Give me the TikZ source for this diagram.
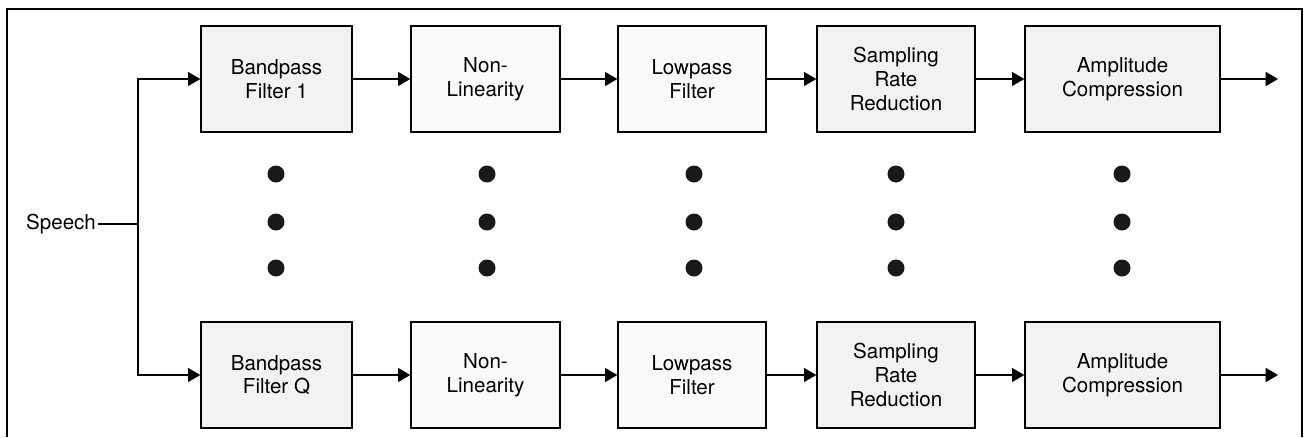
\documentclass[tikz,border=0pt]{standalone}
\usepackage{fontspec}
\setmainfont{TeX Gyre Heros}
\usetikzlibrary{arrows.meta}

\begin{document}
\begin{tikzpicture}[x=0.02cm,y=-0.02cm,>={Triangle[length=7pt,width=8pt]},
  blk/.style={draw,line width=0.8pt,fill=black!5,minimum height=2.12cm,
    align=center,font=\fontsize{11.7}{13.6}\selectfont},
  lite/.style={fill=black!2},
  dot/.style={circle,fill=black!90,inner sep=0pt,minimum size=0.34cm}]
  \useasboundingbox (0,0) rectangle (1305,437);
  % frame, open at the bottom
  \draw[line width=0.8pt] (7,437) -- (7,9) -- (1302,9) -- (1302,437);
  % input and the split to the filter bank
  \node[font=\fontsize{11.7}{13.6}\selectfont,anchor=east,inner sep=1pt] (speech) at (98,224) {Speech};
  \coordinate (bus) at (138,224);
  % one channel per row: top is channel 1, bottom is channel Q
  \foreach \r/\yy/\q in {t/79/1,b/375/Q}{
    \node[blk,minimum width=3.02cm] (bp\r) at (276.5,\yy) {Bandpass\\Filter \q};
    \node[blk,lite,minimum width=2.98cm] (nl\r) at (485.5,\yy) {Non-\\Linearity};
    \node[blk,lite,minimum width=2.96cm] (lp\r) at (692,\yy) {Lowpass\\Filter};
    \node[blk,minimum width=3.16cm] (sr\r) at (896,\yy) {Sampling\\Rate\\Reduction};
    \node[blk,minimum width=3.9cm] (ac\r) at (1122.5,\yy) {Amplitude\\Compression};
    \coordinate (out\r) at (1278,\yy);
    \draw[->,line width=0.6pt] (bp\r) -- (nl\r);
    \draw[->,line width=0.6pt] (nl\r) -- (lp\r);
    \draw[->,line width=0.6pt] (lp\r) -- (sr\r);
    \draw[->,line width=0.6pt] (sr\r) -- (ac\r);
    \draw[->,line width=0.6pt] (ac\r) -- (out\r);
    \draw[->,line width=0.6pt] (bus) |- (bp\r);
  }
  \draw[line width=0.6pt] (speech) -- (bus);
  % channels 2 .. Q-1 left out
  \foreach \x[count=\i] in {276,487,694,896,1122}
    \foreach \y[count=\j] in {174,222,268}
      \node[dot] (d\i\j) at (\x,\y) {};
\end{tikzpicture}
\end{document}
